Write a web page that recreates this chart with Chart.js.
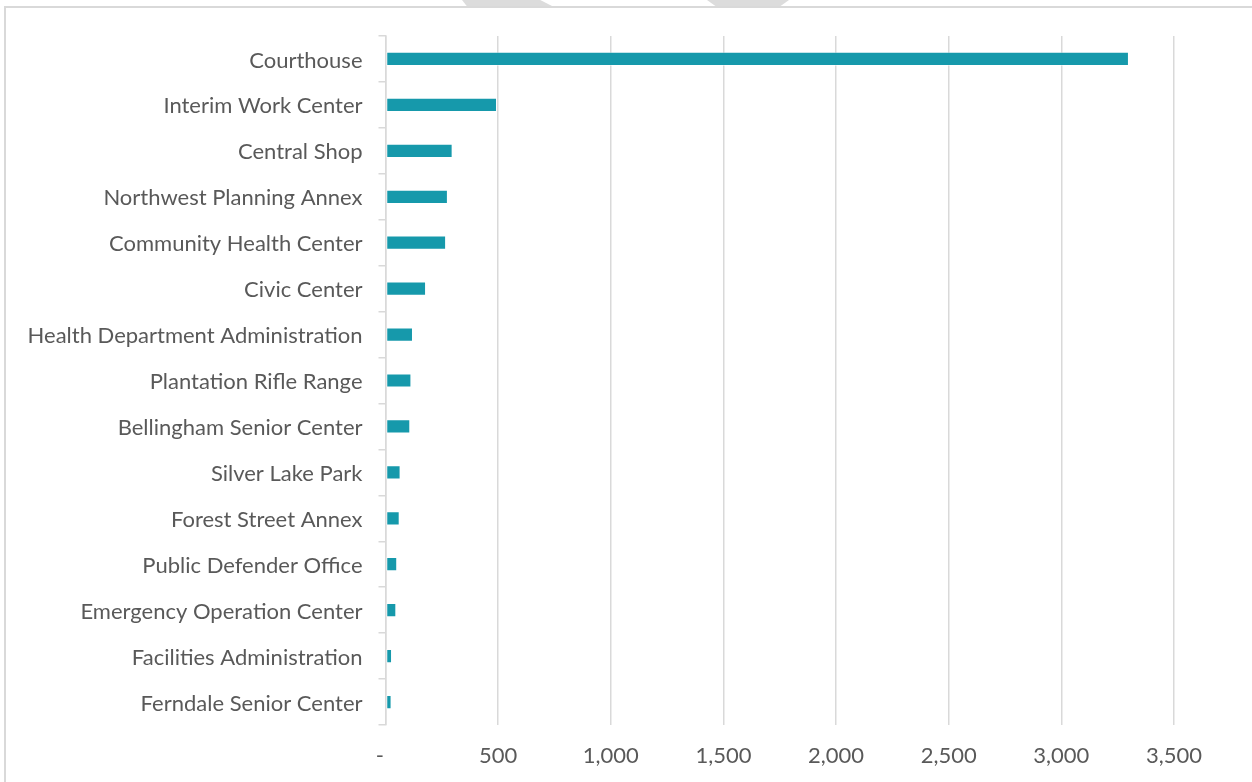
<!DOCTYPE html>
<html>
<head>
<meta charset="utf-8">
<script src="https://cdn.jsdelivr.net/npm/chart.js@4.4.1/dist/chart.umd.min.js"></script>
<style>
  html, body { margin: 0; padding: 0; background: #fff; }
  #wrap { position: relative; width: 1252px; height: 782px; overflow: hidden; }
  #frame { position: absolute; left: 4px; top: 6px; right: -4px; bottom: -4px;
           border-top: 2px solid #d9d9d9; border-left: 2px solid #d9d9d9; }
  .mark { position: absolute; top: 0; height: 7px; background: #dcdcdc; }
  #m1 { left: 462px; width: 92px; clip-path: polygon(0 0, 85% 0, 100% 100%, 6% 100%); }
  #m2 { left: 707px; width: 82px; clip-path: polygon(0 0, 100% 0, 88% 100%, 12% 100%); }
  canvas { position: absolute; left: 0; top: 0; }
</style>
</head>
<body>
<div id="wrap">
  <div class="mark" id="m1"></div>
  <div class="mark" id="m2"></div>
  <div id="frame"></div>
  <canvas id="facilityChart" width="1252" height="782"></canvas>
</div>
<script>
// 시설별 값 (위에서 아래 순서)
const categories = [
    "Courthouse",
    "Interim Work Center",
    "Central Shop",
    "Northwest Planning Annex",
    "Community Health Center",
    "Civic Center",
    "Health Department Administration",
    "Plantation Rifle Range",
    "Bellingham Senior Center",
    "Silver Lake Park",
    "Forest Street Annex",
    "Public Defender Office",
    "Emergency Operation Center",
    "Facilities Administration",
    "Ferndale Senior Center"
];
const values = [3300, 495, 298, 277, 269, 180, 122, 115, 110, 67, 63, 52, 48, 29, 27];
const xTicks = [0, 500, 1000, 1500, 2000, 2500, 3000, 3500];

const labelColor = "#595959";
const gridColor = "#d9d9d9";
const barColor = "#1699ab";

var facilityChart = new Chart(document.getElementById("facilityChart"), {
    type: 'bar',
    data: {
        labels: categories,
        datasets: [
            {
                data: values,
                backgroundColor: barColor,
                borderColor: "rgba(255,255,255,0.45)",
                borderWidth: 1,
                borderSkipped: false,
                categoryPercentage: 1,
                barPercentage: 0.31
            }
        ]
    },
    options: {
        indexAxis: 'y',
        responsive: false,
        animation: false,
        maintainAspectRatio: false,
        layout: { padding: { left: 0, right: 78, top: 36, bottom: 0 } },
        plugins: {
            legend: { display: false },
            tooltip: { enabled: false }
        },
        scales: {
            x: {
                min: 0,
                max: 3500,
                afterBuildTicks: function(scale) {
                    scale.ticks = xTicks.map(v => ({ value: v }));
                },
                afterFit: function(scale) { scale.height = 57; },
                grid: { color: gridColor, lineWidth: 1.5, drawTicks: false },
                border: { display: false },
                ticks: {
                    color: labelColor,
                    padding: 18,
                    font: { family: "Lato", size: 22 },
                    callback: function(v) {
                        // 0은 회계 서식처럼 "-" 로 표시
                        return v === 0 ? "-  " : v.toLocaleString("en-US");
                    }
                }
            },
            y: {
                afterFit: function(scale) { scale.width = 385.5; },
                grid: {
                    drawOnChartArea: false,
                    drawTicks: true,
                    tickLength: 7,
                    color: gridColor,
                    lineWidth: 1.5
                },
                border: { display: true, color: gridColor, width: 1.5 },
                ticks: {
                    color: labelColor,
                    padding: 16,
                    labelOffset: 1.5,
                    font: { family: "Lato", size: 22 }
                }
            }
        }
    }
});
</script>
</body>
</html>
